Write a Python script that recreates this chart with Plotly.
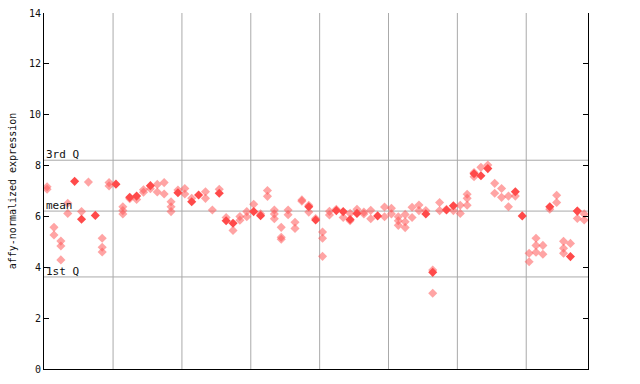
import plotly.graph_objects as go

# replicate values per sample (hatched markers), in sample order
replicates = [
    [7.17, 7.07], [5.57, 5.27], [5.03, 4.84, 4.29], [6.52, 6.12], [], [6.19], [7.35], [],
    [5.14, 4.79, 4.60], [7.33, 7.20], [], [6.38, 6.23, 6.10], [6.70], [6.67], [7.05, 6.95], [7.09],
    [7.26, 6.96], [7.33, 6.88], [6.58, 6.38, 6.19], [7.04], [7.10, 6.88], [6.71], [], [6.97, 6.71],
    [6.25], [7.07], [5.96], [5.45], [6.00, 5.85], [6.19, 5.99], [6.48], [6.10],
    [7.02, 6.79], [6.25, 6.10, 5.91], [5.57, 5.18, 5.10], [6.25, 6.07], [5.77, 5.53], [6.65, 6.60], [6.44, 6.17], [5.92],
    [5.39, 5.14, 4.43], [6.20, 6.06], [6.28], [5.96], [6.12, 5.83], [6.28], [6.17, 6.10], [6.24, 5.91],
    [], [6.37, 5.99], [6.32, 6.10], [5.99, 5.83, 5.65], [6.08, 5.79, 5.56], [6.36, 5.96], [6.45, 6.23], [6.23],
    [3.89, 2.98], [6.55, 6.23], [6.28], [6.23], [6.44, 6.12], [6.87, 6.71, 6.44], [7.73, 7.56], [7.93],
    [8.02], [7.30, 6.91], [7.10, 6.75], [6.80, 6.38], [6.80], [], [4.55, 4.22], [5.14, 4.86, 4.59],
    [4.86, 4.51], [6.28], [6.83, 6.55], [5.02, 4.75, 4.55], [4.94], [6.21, 5.92], [6.10, 5.86],
]
# highlighted value per sample (solid markers); None where absent
highlighted = [
    None, None, None, None, 7.38, 5.89, None, 6.04,
    None, None, 7.27, None, 6.75, 6.80, None, 7.21,
    None, None, None, 6.93, None, 6.58, 6.84, None,
    None, 6.91, 5.83, 5.73, None, None, 6.19, 6.03,
    None, None, None, None, None, None, 6.38, 5.86,
    None, None, 6.23, 6.19, 5.88, 6.12, None, None,
    6.02, None, None, None, None, None, None, 6.10,
    3.80, None, 6.25, 6.42, None, None, 7.68, 7.60,
    7.88, None, None, None, 6.97, 6.02, None, None,
    None, 6.38, None, None, 4.42, 6.21, None,
]
quartiles = {"3rd Q": 8.21, "mean": 6.21, "1st Q": 3.62}
group_bounds = [9.58, 19.58, 29.58, 39.58, 49.58, 59.58, 69.58]
y_ticks = [0, 2, 4, 6, 8, 10, 12, 14]

hx, hy, sx, sy = [], [], [], []
for i, vals in enumerate(replicates):
    for v in vals:
        hx.append(i); hy.append(v)
for i, v in enumerate(highlighted):
    if v is not None:
        sx.append(i); sy.append(v)

fig = go.Figure()
fig.add_trace(go.Scatter(x=hx, y=hy, mode="markers",
                         marker=dict(symbol="diamond", size=7, color="rgba(255,90,90,0.55)",
                                     line=dict(width=0)),
                         showlegend=False, hoverinfo="skip"))
fig.add_trace(go.Scatter(x=sx, y=sy, mode="markers",
                         marker=dict(symbol="diamond", size=7, color="#ff4a4a",
                                     line=dict(width=0)),
                         showlegend=False, hoverinfo="skip"))

for gx in group_bounds:
    fig.add_shape(type="line", xref="x", yref="paper", x0=gx, x1=gx, y0=0, y1=1,
                  line=dict(color="#aaaaaa", width=1), layer="below")
for name, val in quartiles.items():
    fig.add_shape(type="line", xref="paper", yref="y", x0=0, x1=1, y0=val, y1=val,
                  line=dict(color="#aaaaaa", width=1), layer="below")
    fig.add_annotation(x=0, xref="paper", y=val, yref="y", text=name, showarrow=False,
                       xanchor="left", yanchor="bottom", xshift=0, yshift=-3,
                       font=dict(family="DejaVu Sans Mono", size=11, color="#111111"))

fig.update_xaxes(range=[-0.45, 78.55], showgrid=False, zeroline=False, showticklabels=False,
                 ticks="", showline=True, linecolor="black", linewidth=1, automargin=False)
fig.update_yaxes(range=[0, 14], tickvals=y_ticks, ticks="inside", ticklen=5, tickcolor="black",
                 showgrid=False, zeroline=False, showline=True, linecolor="black", linewidth=1,
                 mirror="ticks", automargin=False,
                 tickfont=dict(family="DejaVu Sans Mono", size=10, color="#111111"),
                 title=dict(text="affy-normalized expression", standoff=10,
                            font=dict(family="DejaVu Sans Mono", size=10, color="#111111")))
fig.update_layout(width=640, height=384, margin=dict(l=44, r=52, t=13, b=15),
                  plot_bgcolor="white", paper_bgcolor="white")
fig.write_html("out.html")
